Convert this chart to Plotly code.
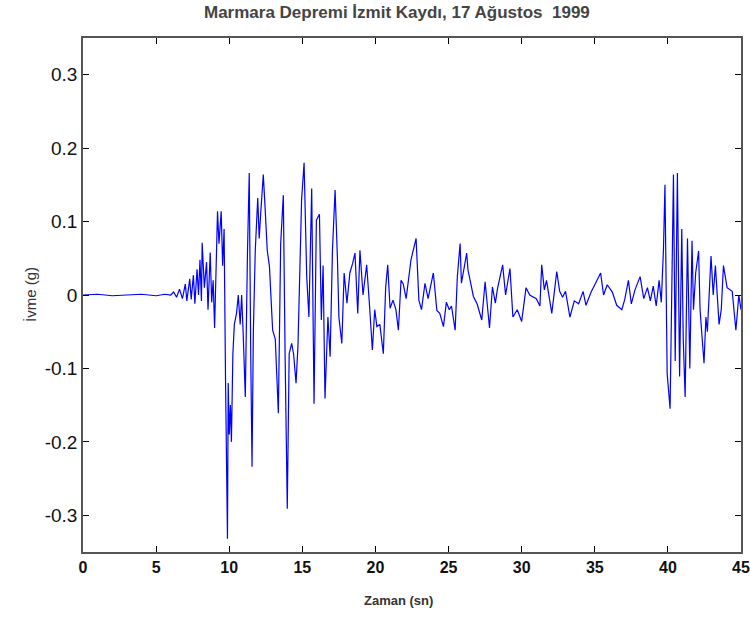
import plotly.graph_objects as go

# Time (s) and acceleration (g)
time_s = [0.0, 1.0, 2.0, 3.0, 4.0, 5.0, 5.6, 6.0, 6.2, 6.4, 6.6, 6.8, 7.0, 7.1, 7.3, 7.4,
          7.55, 7.65, 7.8, 7.9, 8.0, 8.1, 8.15, 8.3, 8.45, 8.55, 8.7, 8.8, 8.9, 9.0,
          9.1, 9.2, 9.3, 9.45, 9.55, 9.65, 9.75, 9.88, 9.93, 10.0, 10.08, 10.15, 10.25,
          10.35, 10.5, 10.62, 10.75, 10.85, 10.95, 11.1, 11.25, 11.37, 11.47, 11.56,
          11.65, 11.78, 11.95, 12.05, 12.15, 12.33, 12.45, 12.6, 12.75, 12.97, 13.15,
          13.36, 13.52, 13.7, 13.82, 13.97, 14.1, 14.27, 14.4, 14.57, 14.7, 14.84,
          14.95, 15.12, 15.3, 15.45, 15.64, 15.8, 15.96, 16.17, 16.3, 16.42, 16.55,
          16.75, 16.9, 17.06, 17.24, 17.4, 17.5, 17.7, 17.86, 18.05, 18.25, 18.44,
          18.6, 18.79, 18.94, 19.15, 19.4, 19.6, 19.79, 19.95, 20.1, 20.3, 20.54,
          20.7, 20.84, 21.0, 21.2, 21.4, 21.57, 21.75, 21.9, 22.1, 22.43, 22.78,
          22.97, 23.15, 23.39, 23.6, 23.96, 24.2, 24.4, 24.65, 24.85, 25.05, 25.2,
          25.45, 25.6, 25.79, 25.88, 26.24, 26.33, 26.7, 26.95, 27.27, 27.5, 27.8,
          28.0, 28.2, 28.35, 28.7, 28.9, 29.2, 29.4, 29.7, 30.0, 30.3, 30.55, 31.0,
          31.25, 31.37, 31.55, 31.7, 32.06, 32.4, 32.6, 32.8, 33.0, 33.3, 33.6, 33.9,
          34.2, 34.4, 34.75, 35.0, 35.4, 35.6, 35.85, 36.2, 36.5, 36.85, 37.05, 37.3,
          37.5, 37.75, 38.1, 38.35, 38.6, 38.8, 39.0, 39.2, 39.4, 39.55, 39.7, 39.8,
          39.95, 40.15, 40.38, 40.5, 40.65, 40.8, 40.95, 41.05, 41.18, 41.34, 41.5,
          41.65, 41.75, 41.9, 42.1, 42.2, 42.47, 42.6, 42.7, 42.95, 43.1, 43.25, 43.5,
          43.65, 43.8, 44.05, 44.4, 44.65, 44.85, 45.0]

accel_g = [0.0, 0.001, -0.001, 0.0, 0.001, -0.001, 0.001, 0.0, 0.004, -0.003, 0.008, -0.005, 0.015, -0.008, 0.022, -0.006,
           0.027, -0.012, 0.035, 0.0, 0.048, -0.008, 0.071, 0.01, 0.045, -0.02, 0.058, -0.01, 0.02, -0.045,
           0.06, 0.114, 0.07, 0.114, 0.04, 0.09, -0.12, -0.332, -0.12, -0.19, -0.15, -0.20, -0.08,
           -0.04, -0.025, 0.0, -0.04, 0.0, -0.05, -0.139, 0.06, 0.166, -0.08, -0.234,
           -0.05, 0.06, 0.132, 0.077, 0.11, 0.164, 0.12, 0.061, 0.039, -0.048, -0.06,
           -0.161, 0.07, 0.136, -0.08, -0.291, -0.08, -0.066, -0.08, -0.12, -0.07, 0.07,
           0.13, 0.18, 0.025, -0.03, 0.145, -0.148, 0.102, 0.11, -0.034, 0.04, -0.141,
           -0.03, -0.084, 0.061, 0.143, 0.05, -0.03, -0.066, 0.03, -0.011, 0.03, 0.043,
           0.057, -0.025, 0.061, 0.0, 0.041, -0.016, -0.075, -0.02, -0.043, -0.04, -0.08,
           0.011, 0.041, -0.018, -0.007, -0.02, -0.048, 0.02, 0.015, -0.005, 0.048, 0.077,
           -0.007, -0.02, 0.016, -0.005, 0.03, -0.021, -0.025, -0.043, -0.01, -0.02, -0.015,
           -0.048, 0.025, 0.070, 0.016, 0.057, 0.034, -0.002, -0.012, -0.034, 0.018, -0.045,
           0.011, -0.011, 0.009, 0.041, 0.0, 0.036, -0.03, -0.02, -0.036, 0.01, 0.0, -0.005,
           -0.015, 0.041, 0.007, 0.02, -0.025, 0.032, 0.005, -0.003, 0.005, -0.03, -0.008, -0.012,
           0.005, -0.014, 0.004, 0.014, 0.030, 0.0, 0.014, 0.004, -0.014, -0.02, -0.006, 0.02,
           -0.012, 0.007, 0.025, -0.005, 0.01, -0.008, 0.012, -0.015, 0.02, -0.01, 0.064, 0.150,
           -0.107, -0.155, 0.164, -0.09, 0.166, -0.111, 0.09, -0.06, -0.139, 0.077, -0.10,
           0.074, -0.02, 0.03, 0.06, -0.02, -0.093, -0.03, -0.05, 0.053, 0.0, 0.04, -0.04,
           -0.02, 0.04, 0.01, 0.005, -0.048, 0.0, -0.02]

x_ticks = [0, 5, 10, 15, 20, 25, 30, 35, 40, 45]
y_ticks = [-0.3, -0.2, -0.1, 0, 0.1, 0.2, 0.3]
y_tick_text = ["-0.3", "-0.2", "-0.1", "0", "0.1", "0.2", "0.3"]

FONT = "Liberation Sans, Arial"

fig = go.Figure()
fig.add_trace(go.Scatter(x=time_s, y=accel_g, mode="lines",
                         line=dict(color="#0000FF", width=1.2),
                         showlegend=False, hoverinfo="skip"))

fig.update_layout(
    width=750, height=617,
    paper_bgcolor="white", plot_bgcolor="white",
    margin=dict(l=83, r=9, t=38, b=65),
    font=dict(family=FONT, color="#000000"),
    annotations=[
        dict(text="<b>Marmara Depremi İzmit Kaydı, 17 Ağustos  1999</b>",
             xref="paper", yref="paper", x=(397 - 83) / 658, y=1 + 25 / 514,
             xanchor="center", yanchor="middle", showarrow=False,
             font=dict(family=FONT, size=17, color="#444444")),
        dict(text="<b>Zaman (sn)</b>",
             xref="paper", yref="paper", x=(398 - 83) / 658, y=-48 / 514,
             xanchor="center", yanchor="middle", showarrow=False,
             font=dict(family=FONT, size=13, color="#333333")),
        dict(text="İvme (g)", textangle=-90,
             xref="paper", yref="paper", x=-53 / 658, y=0.5,
             xanchor="center", yanchor="middle", showarrow=False,
             font=dict(family=FONT, size=15, color="#333333")),
    ],
)
fig.update_xaxes(range=[0, 45], tickvals=x_ticks, ticktext=["<b>%d</b>" % v for v in x_ticks],
                 ticks="inside", ticklen=6, tickcolor="#000000", mirror="ticks",
                 showline=True, linecolor="#555555", linewidth=1.5, showgrid=False,
                 zeroline=False, automargin=False,
                 tickfont=dict(size=16, family=FONT, color="#111111"))
fig.update_yaxes(range=[-0.35, 0.35], tickvals=y_ticks, ticktext=y_tick_text,
                 ticks="inside", ticklen=6, tickcolor="#000000", mirror="ticks",
                 showline=True, linecolor="#555555", linewidth=1.5, showgrid=False,
                 zeroline=False, automargin=False,
                 tickfont=dict(size=19, family=FONT, color="#111111"))

fig.write_html("out.html")
